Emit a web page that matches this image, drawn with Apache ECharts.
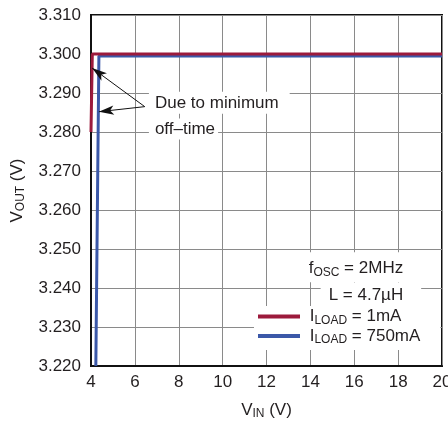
<!DOCTYPE html>
<html><head><meta charset="utf-8">
<script src="https://cdn.jsdelivr.net/npm/echarts@6/dist/echarts.min.js"></script>
<style>html,body{margin:0;padding:0;background:#fff}#c{width:448px;height:425px}</style>
</head><body><div id="c"></div>
<script>
// ---- data ----
const xTicks = [4, 6, 8, 10, 12, 14, 16, 18, 20];
const yTicks = [3.22, 3.23, 3.24, 3.25, 3.26, 3.27, 3.28, 3.29, 3.30, 3.31];
const seriesNames = ['1mA', '750mA'];
const vin1mA   = [4.00, 4.06, 20.00];
const vout1mA  = [3.2800, 3.3000, 3.3000];
const vin750mA = [4.22, 4.36, 20.00];
const vout750mA= [3.2200, 3.2995, 3.2995];
// arrow annotations (data coords): start -> tip
const arrowStart = [6.45, 3.2865];
const arrowTips = [[4.05, 3.2964], [4.36, 3.2852]];

const FONT = 'Liberation Sans, Arial, sans-serif';
const TXT = '#231f20';
const RED = '#9c1a3c';
const BLUE = '#3b58a8';

const chart = echarts.init(document.getElementById('c'), null, {renderer: 'canvas'});
const pair = (xs, ys) => xs.map((x, i) => [x, ys[i]]);

const option = {
  animation: false,
  grid: {left: 91, top: 15, right: 6, bottom: 59, show: true, borderColor: '#111', borderWidth: 2,
         backgroundColor: 'transparent', outerBoundsMode: 'none', containLabel: false},
  xAxis: {
    type: 'value', min: xTicks[0], max: xTicks[xTicks.length - 1], interval: 2,
    axisLine: {show: true, lineStyle: {color: '#111', width: 2}},
    axisTick: {show: false},
    splitLine: {show: true, lineStyle: {color: '#8a8a8a', width: 1}},
    axisLabel: {fontFamily: FONT, fontSize: 17, color: TXT, margin: 8, hideOverlap: false},
    name: '{a|V}{s|IN}{a| (V)}', nameLocation: 'middle', nameGap: 34,
    nameTextStyle: {fontFamily: FONT, color: TXT, rich: {
      a: {fontFamily: FONT, fontSize: 17, color: TXT, lineHeight: 20},
      s: {fontFamily: FONT, fontSize: 12, color: TXT, lineHeight: 12, verticalAlign: 'bottom'}
    }}
  },
  yAxis: {
    type: 'value', min: yTicks[0], max: yTicks[yTicks.length - 1], interval: 0.01,
    axisLine: {show: true, lineStyle: {color: '#111', width: 2}},
    axisTick: {show: false},
    splitLine: {show: true, lineStyle: {color: '#8a8a8a', width: 1}},
    axisLabel: {fontFamily: FONT, fontSize: 17, color: TXT, margin: 10, formatter: v => v.toFixed(3)},
    name: '{a|V}{s|OUT}{a| (V)}', nameLocation: 'middle', nameGap: 64, nameRotate: 90,
    nameTextStyle: {fontFamily: FONT, color: TXT, rich: {
      a: {fontFamily: FONT, fontSize: 17, color: TXT, lineHeight: 20},
      s: {fontFamily: FONT, fontSize: 12, color: TXT, lineHeight: 12, verticalAlign: 'bottom'}
    }}
  },
  legend: {
    orient: 'vertical', left: 254, top: 306, itemWidth: 42, itemHeight: 4, icon: 'rect',
    itemGap: 1, backgroundColor: '#fff', padding: [2, 20, 4, 4],
    data: seriesNames,
    formatter: n => '{a| I}{s|LOAD}{a| = ' + n + '}',
    textStyle: {fontFamily: FONT, color: TXT, rich: {
      a: {fontFamily: FONT, fontSize: 17, color: TXT, lineHeight: 20},
      s: {fontFamily: FONT, fontSize: 12, color: TXT, lineHeight: 12, verticalAlign: 'bottom'}
    }}
  },
  series: [
    {
      name: seriesNames[0], type: 'line', data: pair(vin1mA, vout1mA), showSymbol: false, z: 4,
      lineStyle: {color: RED, width: 3}, itemStyle: {color: RED},
      markLine: {
        silent: true, symbol: ['none', 'arrow'], symbolSize: [7, 15], z: 5,
        label: {show: false},
        lineStyle: {color: '#111', width: 1, type: 'solid'},
        data: arrowTips.map(t => [{coord: arrowStart}, {coord: t}])
      }
    },
    {
      name: seriesNames[1], type: 'line', data: pair(vin750mA, vout750mA), showSymbol: false, z: 3,
      lineStyle: {color: BLUE, width: 3}, itemStyle: {color: BLUE}
    }
  ]
};
chart.setOption(option);

// text annotations placed at data coordinates
const notes = [
  {at: [6.64, 3.2875], align: 'left', text: 'Due to minimum', pad: [3, 11, 2, 6]},
  {at: [6.64, 3.2808], align: 'left', text: 'off\u2013time', pad: [2, 3, 2, 6]},
  {at: [19.05, 3.2453], align: 'right', text: '{a|f}{s|OSC}{a| = 2MHz}', pad: [6, 18, 4, 8]},
  {at: [19.05, 3.2381], align: 'right', text: '{a|L = 4.7\u00b5H}', pad: [3, 18, 3, 8]}
];
const rich = {
  a: {fontFamily: FONT, fontSize: 17, fill: TXT, lineHeight: 20},
  s: {fontFamily: FONT, fontSize: 12, fill: TXT, lineHeight: 12, verticalAlign: 'bottom'}
};
chart.setOption({
  graphic: notes.map(n => {
    const p = chart.convertToPixel({gridIndex: 0}, n.at);
    return {
      type: 'text', x: p[0], y: p[1], z: 10,
      style: {
        text: n.text, rich: rich, fontFamily: FONT, fontSize: 17, fill: TXT,
        align: n.align, verticalAlign: 'middle', backgroundColor: '#fff', padding: n.pad
      }
    };
  })
});
</script></body></html>
